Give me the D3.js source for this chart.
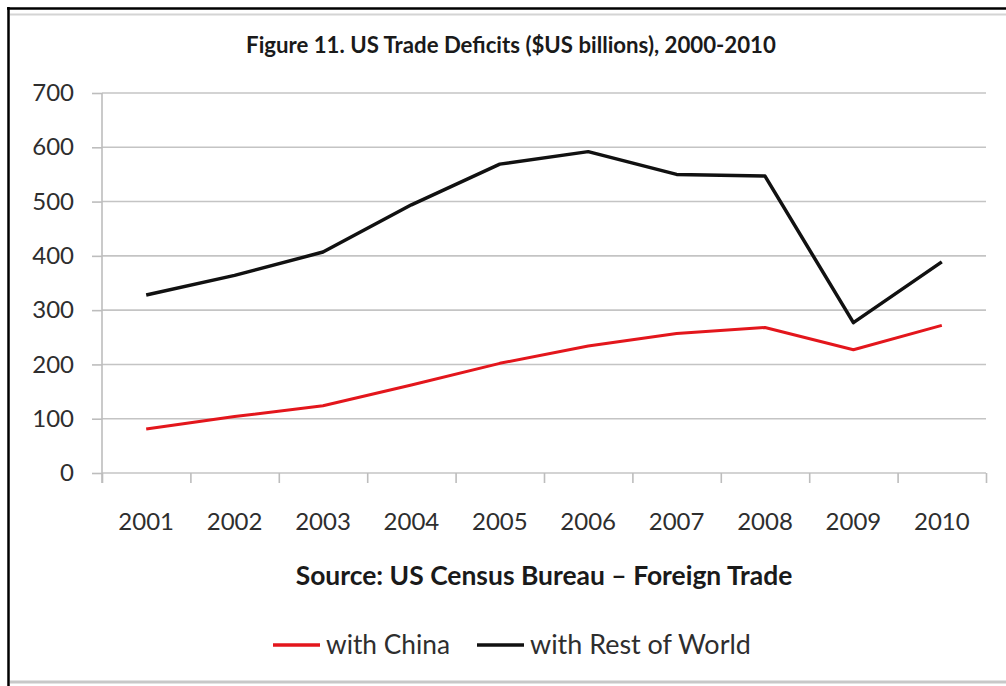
<!DOCTYPE html>
<html>
<head>
<meta charset="utf-8">
<script src="https://cdn.jsdelivr.net/npm/d3@7"></script>
<style>
    body { margin: 0; background: #fff; }
    svg { display: block; font-family: Lato, "Open Sans", sans-serif; }
</style>
</head>
<body>
<div id="chart"></div>
<script>
// Chart data
const years = ['2001', '2002', '2003', '2004', '2005', '2006', '2007', '2008', '2009', '2010'];
const chinaDeficit = [81, 104, 124, 162, 202, 234, 257, 268, 227, 272];
const restOfWorld = [328, 364, 407, 494, 569, 592, 550, 547, 277, 389];
const yTicks = [0, 100, 200, 300, 400, 500, 600, 700];
const seriesLabels = ['with China', 'with Rest of World'];
const seriesColors = ['#e3161c', '#111111'];

const width = 1006, height = 686;
const plot = { left: 102, right: 986, top: 93, bottom: 473 };

const svg = d3.select('#chart').append('svg')
    .attr('width', width)
    .attr('height', height);

// Frame around the picture
svg.append('line').attr('x1', 7).attr('x2', width).attr('y1', 8.5).attr('y2', 8.5)
    .attr('stroke', '#000').attr('stroke-width', 2.5);
svg.append('line').attr('x1', 10).attr('x2', width).attr('y1', 14.5).attr('y2', 14.5)
    .attr('stroke', '#d4d4d4').attr('stroke-width', 2);
svg.append('line').attr('x1', 8.5).attr('x2', 8.5).attr('y1', 7).attr('y2', height)
    .attr('stroke', '#000').attr('stroke-width', 2.5);
svg.append('line').attr('x1', 10).attr('x2', width).attr('y1', 682).attr('y2', 682)
    .attr('stroke', '#c8c8c8').attr('stroke-width', 3);

// Shrink or grow a label's font so it spans the given width
function fitWidth(sel, target) {
    const w = sel.node().getComputedTextLength();
    const fs = parseFloat(sel.style('font-size'));
    sel.style('font-size', (fs * target / w) + 'px');
}

// Title
const title = svg.append('text')
    .attr('x', 511)
    .attr('y', 53)
    .attr('text-anchor', 'middle')
    .style('font-size', '18px')
    .style('font-weight', 'bold')
    .attr('fill', '#1a1a1a')
    .text('Figure 11. US Trade Deficits ($US billions), 2000-2010');
fitWidth(title, 530);

// Scales
const x = d3.scaleBand().domain(years).range([plot.left, plot.right]);
const xEdges = d3.scaleLinear().domain([0, years.length]).range([plot.left, plot.right]);
const y = d3.scaleLinear().domain([0, 700]).range([plot.bottom, plot.top]);

// Gridlines
svg.append('g')
    .selectAll('line')
    .data(yTicks)
    .join('line')
    .attr('x1', plot.left)
    .attr('x2', plot.right)
    .attr('y1', d => y(d))
    .attr('y2', d => y(d))
    .attr('stroke', '#c4c4c4')
    .attr('stroke-width', 1.6);

// Y axis
const yAxis = svg.append('g')
    .attr('transform', `translate(${plot.left},0)`)
    .call(d3.axisLeft(y).tickValues(yTicks).tickSize(10).tickPadding(18));
yAxis.select('.domain').remove();
yAxis.selectAll('line').attr('stroke', '#bdbdbd').attr('stroke-width', 1.6);
yAxis.selectAll('text')
    .style('font-size', '24px')
    .style('font-family', 'Lato, sans-serif')
    .attr('fill', '#2e2e2e');

svg.append('line')
    .attr('x1', plot.left).attr('x2', plot.left)
    .attr('y1', plot.top).attr('y2', plot.bottom + 10)
    .attr('stroke', '#bdbdbd').attr('stroke-width', 1.6);

// X axis: category boundary ticks
const xTickAxis = svg.append('g')
    .attr('transform', `translate(0,${plot.bottom})`)
    .call(d3.axisBottom(xEdges).tickValues(d3.range(years.length + 1)).tickFormat('').tickSize(10));
xTickAxis.select('.domain').remove();
xTickAxis.selectAll('line').attr('stroke', '#bdbdbd').attr('stroke-width', 1.6);

// X axis: category labels
const xAxis = svg.append('g')
    .attr('transform', `translate(0,${plot.bottom})`)
    .call(d3.axisBottom(x).tickSize(0).tickPadding(40));
xAxis.select('.domain').remove();
xAxis.selectAll('text')
    .style('font-size', '24px')
    .style('font-family', 'Lato, sans-serif')
    .attr('fill', '#2e2e2e');

// Lines
const line = d3.line()
    .x((d, i) => x(years[i]) + x.bandwidth() / 2)
    .y(d => y(d));

[chinaDeficit, restOfWorld].forEach((series, i) => {
    svg.append('path')
        .datum(series)
        .attr('fill', 'none')
        .attr('stroke', seriesColors[i])
        .attr('stroke-width', i === 0 ? 3 : 3.5)
        .attr('stroke-linejoin', 'round')
        .attr('d', line);
});

// Source note
const source = svg.append('text')
    .attr('x', (plot.left + plot.right) / 2)
    .attr('y', 585)
    .attr('text-anchor', 'middle')
    .style('font-size', '21px')
    .style('font-weight', 'bold')
    .attr('fill', '#1a1a1a')
    .text('Source: US Census Bureau \u2013 Foreign Trade');
fitWidth(source, 497);

// Legend
const legendX = [273, 477];
const legendTextWidth = [124, 221];
seriesLabels.forEach((label, i) => {
    const item = svg.append('g')
        .attr('transform', `translate(${legendX[i]},645)`);
    item.append('line')
        .attr('x1', 0).attr('x2', 47)
        .attr('y1', 0).attr('y2', 0)
        .attr('stroke', seriesColors[i])
        .attr('stroke-width', 3.5);
    const txt = item.append('text')
        .attr('x', 53)
        .attr('y', 9)
        .style('font-size', '24px')
        .attr('fill', '#2e2e2e')
        .text(label);
    fitWidth(txt, legendTextWidth[i]);
});
</script>
</body>
</html>
